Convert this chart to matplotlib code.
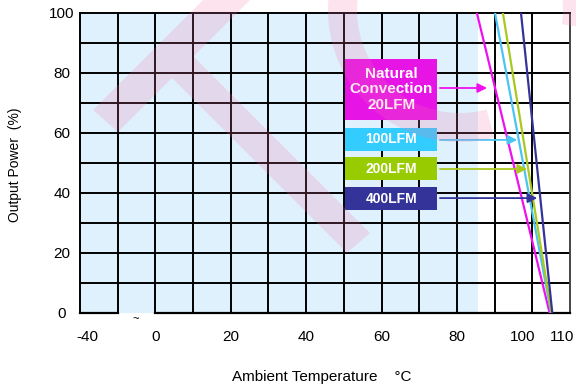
import matplotlib
matplotlib.use("Agg")
import matplotlib.pyplot as plt
import matplotlib.patches as mpatches
from matplotlib.transforms import IdentityTransform
import numpy as np

plt.rcParams['font.family'] = ['Liberation Sans', 'DejaVu Sans']

# derating curves: temperature (axis units) at 100 % load and at 0 % load
curve_names = ['Natural\nConvection\n20LFM', '100LFM', '200LFM', '400LFM']
temp_full_load = [85.3, 90.1, 92.2, 97.0]
temp_zero_load = [104.6, 105.0, 105.1, 105.3]
power_points = [100, 0]

tick_labels = ['-40', '0', '20', '40', '60', '80', '100', '110']

line_colors = ['#ee10ee', '#4cc4f2', '#aac81e', '#333399']
box_colors = ['#e615e6', '#33ccff', '#99cc00', '#333399']

fig = plt.figure(figsize=(5.76, 3.87), dpi=100)
ax = fig.add_axes([80 / 576, 1 - 313 / 387, 490 / 576, 300 / 387])
ax.set_xlim(-20, 110)
ax.set_ylim(0, 100)

# light blue region of the chart background
ax.axvspan(-20, 85.5, color='#dff1fd', zorder=0, lw=0)

# grid
for gx in np.arange(-10, 110, 10):
    ax.axvline(gx, color='black', lw=1.4, zorder=1)
for gy in np.arange(10, 100, 10):
    ax.axhline(gy, color='black', lw=1.4, zorder=1)

for side in ['left', 'top', 'right']:
    ax.spines[side].set_linewidth(1.4)
ax.spines['right'].set_color('#444444')
ax.spines['bottom'].set_visible(False)
# bottom axis line with a break between -10 and 0
ax.plot([-20, -10], [0, 0], color='black', lw=1.6, clip_on=False, zorder=3)
ax.plot([0, 110], [0, 0], color='black', lw=1.6, clip_on=False, zorder=3)
ax.text(-5.3, -2.2, '~', ha='center', va='center', fontsize=8)

# derating lines
for t0, t1, c in zip(temp_full_load, temp_zero_load, line_colors):
    ax.plot([t0, t1], power_points, color=c, lw=1.6, zorder=4)

# labelled boxes with arrows
box_rows = [(64.3, 84.7, 75.0), (54.0, 61.7, 57.7), (44.3, 52.0, 48.0), (34.3, 42.0, 38.3)]
arrow_ends = [88.0, 96.0, 98.6, 101.3]
for name, bc, lc, (y0, y1, ya), xe in zip(curve_names, box_colors, line_colors,
                                          box_rows, arrow_ends):
    ax.add_patch(mpatches.Rectangle((50.4, y0), 24.3, y1 - y0, facecolor=bc,
                                    edgecolor='none', zorder=5))
    ax.text(62.55, (y0 + y1) / 2, name, ha='center', va='center', color='white',
            fontsize=11 if '\n' in name else 10, fontweight='bold', zorder=6,
            linespacing=1.1)
    ax.annotate('', xy=(xe, ya), xytext=(75.5, ya),
                arrowprops=dict(arrowstyle='-|>', color=lc, lw=1.3,
                                mutation_scale=14, shrinkA=0, shrinkB=0),
                zorder=6)

ax.set_xticks([-18, 0, 20, 40, 60, 80, 97.5, 108])
ax.set_xticklabels(tick_labels, fontsize=11)
ax.set_yticks(np.arange(0, 101, 20))
ax.set_yticklabels([str(v) for v in range(0, 101, 20)], fontsize=11)
ax.tick_params(length=0)
ax.tick_params(axis='x', pad=12)
ax.tick_params(axis='y', pad=13)
for lab in ax.get_yticklabels():
    lab.set_horizontalalignment('center')

fig.text(15 / 576, 1 - 165 / 387, 'Output Power  (%)', rotation=90,
         ha='center', va='center', fontsize=10)
fig.text(322 / 576, 1 - 377 / 387, 'Ambient Temperature    \u00b0C',
         ha='center', va='center', fontsize=11)

# faint pink watermark on top of everything (pixel coordinates)
H = 387
wm = dict(facecolor='#f573aa', edgecolor='none', alpha=0.2,
          transform=IdentityTransform(), zorder=10)
t_shape = [(93, 110), (118, 132), (172, 78), (347, 253), (370, 233),
           (193.5, 56.5), (300, -50), (253, -50)]
fig.patches.append(mpatches.Polygon([(x, H - y) for x, y in t_shape],
                                    closed=True, **wm))
fig.patches.append(mpatches.Wedge((460, H - 10), 132, 165, 285, width=29, **wm))
fig.patches.append(mpatches.Wedge((460, H - 10), 132, -8, 30, width=29, **wm))

fig.savefig('out.png', dpi=100)
